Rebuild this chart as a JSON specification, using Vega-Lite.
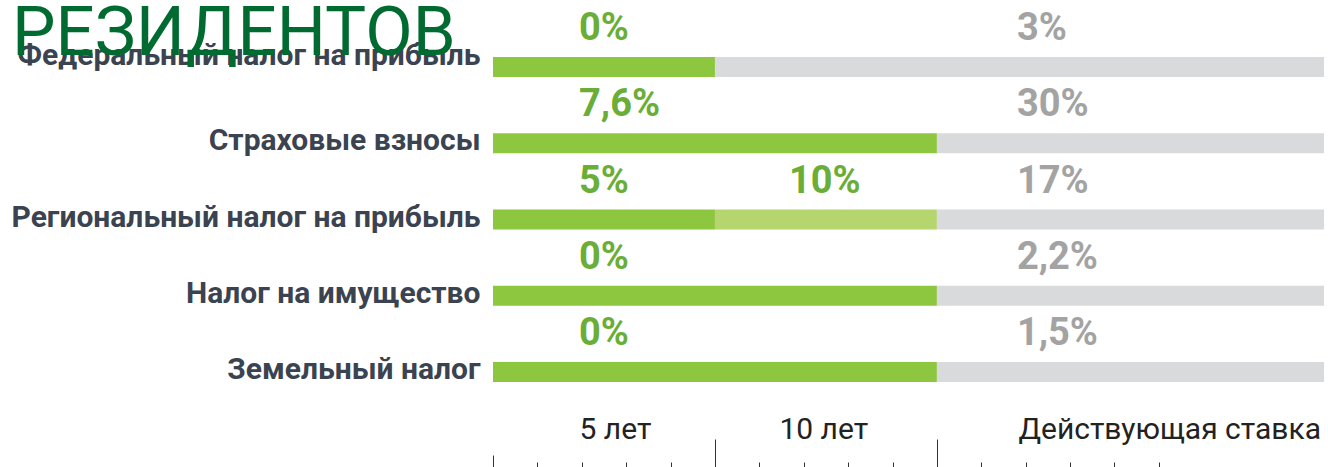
{
  "$schema": "https://vega.github.io/schema/vega-lite/v6.json",
  "width": 831,
  "height": 381,
  "autosize": {"type": "none"},
  "padding": {"left": 493, "top": 29, "right": 4, "bottom": 57},
  "background": "white",
  "config": {"view": {"stroke": null}, "font": "Roboto"},
  "title": {
    "text": "РЕЗИДЕНТОВ",
    "anchor": "start",
    "frame": "group",
    "font": "Roboto",
    "fontSize": 69,
    "fontWeight": "normal",
    "color": "#006b30",
    "baseline": "alphabetic",
    "dx": -481,
    "dy": 118
  },
  "datasets": {
    "bars": [
      {"tax": "Федеральный налог на прибыль", "start": 0, "end": 5, "kind": "льгота"},
      {"tax": "Федеральный налог на прибыль", "start": 5, "end": 18.72, "kind": "действующая"},
      {"tax": "Страховые взносы", "start": 0, "end": 10, "kind": "льгота"},
      {"tax": "Страховые взносы", "start": 10, "end": 18.72, "kind": "действующая"},
      {"tax": "Региональный налог на прибыль", "start": 0, "end": 5, "kind": "льгота"},
      {"tax": "Региональный налог на прибыль", "start": 5, "end": 10, "kind": "льгота 10 лет"},
      {"tax": "Региональный налог на прибыль", "start": 10, "end": 18.72, "kind": "действующая"},
      {"tax": "Налог на имущество", "start": 0, "end": 10, "kind": "льгота"},
      {"tax": "Налог на имущество", "start": 10, "end": 18.72, "kind": "действующая"},
      {"tax": "Земельный налог", "start": 0, "end": 10, "kind": "льгота"},
      {"tax": "Земельный налог", "start": 10, "end": 18.72, "kind": "действующая"}
    ],
    "labels": [
      {"tax": "Федеральный налог на прибыль", "period": "5 лет", "start": 0, "rate": "0%", "kind": "льгота"},
      {"tax": "Федеральный налог на прибыль", "period": "Действующая ставка", "start": 10, "rate": "3%", "kind": "действующая"},
      {"tax": "Страховые взносы", "period": "5 лет", "start": 0, "rate": "7,6%", "kind": "льгота"},
      {"tax": "Страховые взносы", "period": "Действующая ставка", "start": 10, "rate": "30%", "kind": "действующая"},
      {"tax": "Региональный налог на прибыль", "period": "5 лет", "start": 0, "rate": "5%", "kind": "льгота"},
      {"tax": "Региональный налог на прибыль", "period": "10 лет", "start": 5, "rate": "10%", "kind": "льгота 10 лет"},
      {"tax": "Региональный налог на прибыль", "period": "Действующая ставка", "start": 10, "rate": "17%", "kind": "действующая"},
      {"tax": "Налог на имущество", "period": "5 лет", "start": 0, "rate": "0%", "kind": "льгота"},
      {"tax": "Налог на имущество", "period": "Действующая ставка", "start": 10, "rate": "2,2%", "kind": "действующая"},
      {"tax": "Земельный налог", "period": "5 лет", "start": 0, "rate": "0%", "kind": "льгота"},
      {"tax": "Земельный налог", "period": "Действующая ставка", "start": 10, "rate": "1,5%", "kind": "действующая"}
    ]
  },
  "encoding": {
    "y": {
      "field": "tax",
      "type": "nominal",
      "sort": ["Федеральный налог на прибыль", "Страховые взносы", "Региональный налог на прибыль", "Налог на имущество", "Земельный налог"],
      "scale": {"paddingInner": 0, "paddingOuter": 0},
      "axis": {
        "title": null,
        "domain": false,
        "ticks": false,
        "labelFont": "Roboto",
        "labelFontSize": 30,
        "labelFontWeight": "bold",
        "labelColor": "#3b4350",
        "labelPadding": 13,
        "labelLimit": 600,
        "labelOffset": {"condition": {"test": "datum.value === 'Федеральный налог на прибыль'", "value": -11}, "value": -2}
      }
    }
  },
  "layer": [
    {
      "data": {"name": "bars"},
      "mark": {"type": "bar", "height": 20},
      "encoding": {
        "x": {
          "field": "start",
          "type": "quantitative",
          "scale": {"domain": [0, 18.72], "nice": false, "zero": false},
          "axis": {
            "orient": "top",
            "offset": -438,
            "values": [0, 1, 2, 3, 4, 5, 6, 7, 8, 9, 10, 11, 12, 13, 14, 15],
            "domain": false,
            "grid": false,
            "title": null,
            "tickColor": "#333333",
            "tickWidth": 1,
            "tickSize": {"condition": [{"test": "datum.value === 5 || datum.value === 10", "value": 28}, {"test": "datum.value === 0", "value": 12}], "value": 5},
            "labelExpr": "datum.value === 0 ? '5 лет' : datum.value === 5 ? '10 лет' : datum.value === 10 ? 'Действующая ставка' : ''",
            "labelAlign": "left",
            "labelBaseline": "alphabetic",
            "labelOffset": {"condition": [{"test": "datum.value === 0", "value": 86}, {"test": "datum.value === 5", "value": 64}], "value": 81},
            "labelPadding": {"condition": {"test": "datum.value === 0", "value": 17}, "value": 1},
            "labelFont": "Roboto",
            "labelFontSize": 30,
            "labelColor": "#222222",
            "labelLimit": 400,
            "labelFlush": false,
            "labelOverlap": false,
            "labelBound": false
          }
        },
        "x2": {"field": "end"},
        "color": {
          "field": "kind",
          "type": "nominal",
          "scale": {"domain": ["льгота", "льгота 10 лет", "действующая"], "range": ["#8dc63f", "#b5d56f", "#d9dadb"]},
          "legend": null
        }
      }
    },
    {
      "data": {"name": "labels"},
      "transform": [{"filter": "datum.period === '5 лет'"}],
      "mark": {"type": "text", "align": "left", "baseline": "middle", "dx": 86, "dy": -38, "font": "Roboto", "fontSize": 38, "fontWeight": "bold"},
      "encoding": {
        "x": {"field": "start", "type": "quantitative"},
        "text": {"field": "rate"},
        "color": {"condition": {"test": "datum.kind === 'действующая'", "value": "#a3a3a3"}, "value": "#6aae37"}
      }
    },
    {
      "data": {"name": "labels"},
      "transform": [{"filter": "datum.period === '10 лет'"}],
      "mark": {"type": "text", "align": "left", "baseline": "middle", "dx": 74, "dy": -38, "font": "Roboto", "fontSize": 38, "fontWeight": "bold"},
      "encoding": {
        "x": {"field": "start", "type": "quantitative"},
        "text": {"field": "rate"},
        "color": {"condition": {"test": "datum.kind === 'действующая'", "value": "#a3a3a3"}, "value": "#6aae37"}
      }
    },
    {
      "data": {"name": "labels"},
      "transform": [{"filter": "datum.period === 'Действующая ставка'"}],
      "mark": {"type": "text", "align": "left", "baseline": "middle", "dx": 80, "dy": -38, "font": "Roboto", "fontSize": 38, "fontWeight": "bold"},
      "encoding": {
        "x": {"field": "start", "type": "quantitative"},
        "text": {"field": "rate"},
        "color": {"condition": {"test": "datum.kind === 'действующая'", "value": "#a3a3a3"}, "value": "#6aae37"}
      }
    }
  ]
}
